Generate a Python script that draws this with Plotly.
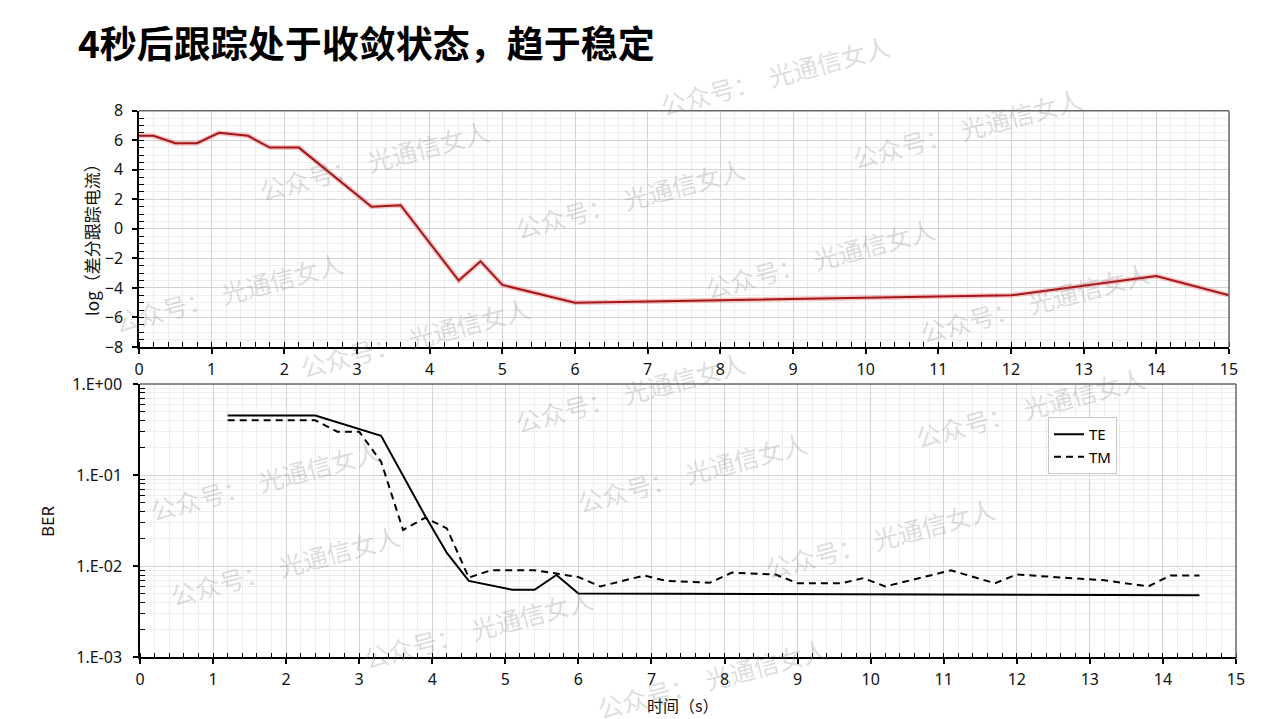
import plotly.graph_objects as go

# ---------------- data ----------------
title_text = "4秒后跟踪处于收敛状态，趋于稳定"

# top chart: log(differential tracking current) vs time
cur_t = [0, 0.2, 0.5, 0.8, 1.1, 1.5, 1.8, 2.2, 3.2, 3.6, 4.4, 4.7, 5.0, 6.0, 12.0, 14.0, 15.0]
cur_v = [6.3, 6.3, 5.8, 5.8, 6.5, 6.3, 5.5, 5.5, 1.5, 1.6, -3.5, -2.2, -3.8, -5.0, -4.5, -3.2, -4.5]

# bottom chart: BER vs time
te_t = [1.2, 2.4, 3.3, 3.9, 4.2, 4.5, 5.1, 5.4, 5.7, 6.0, 14.5]
te_v = [0.45, 0.45, 0.27, 0.036, 0.014, 0.0069, 0.0055, 0.0055, 0.008, 0.005, 0.0048]

tm_t = [1.2, 2.4, 2.7, 3.0, 3.3, 3.6, 3.9, 4.2, 4.5, 4.8, 5.1, 5.4, 5.7, 6.0, 6.3,
        6.9, 7.2, 7.8, 8.1, 8.7, 9.0, 9.6, 9.9, 10.2, 11.1, 11.7, 12.0, 12.6, 13.2,
        13.8, 14.1, 14.5]
tm_v = [0.40, 0.40, 0.30, 0.30, 0.14, 0.025, 0.034, 0.026, 0.0075, 0.009, 0.009, 0.009,
        0.0083, 0.0076, 0.006, 0.0079, 0.0069, 0.0066, 0.0085, 0.0081, 0.0065, 0.0065,
        0.0074, 0.006, 0.009, 0.0065, 0.0081, 0.0075, 0.007, 0.006, 0.0079, 0.0079]

ber_tickvals = [1, 0.1, 0.01, 0.001]
ber_ticktext = ["1.E+00", "1.E-01", "1.E-02", "1.E-03"]
ber_minor = [m * d for d in (0.001, 0.01, 0.1) for m in range(2, 10)]

top_ylabel = "log（差分跟踪电流）"
bot_ylabel = "BER"
bot_xlabel = "时间（s）"

watermark = "公众号：  光通信女人"
wm_pos = [(775, 75), (967, 128), (374, 160), (630, 198), (820, 258), (1035, 302),
          (228, 292), (415, 337), (630, 392), (1030, 407), (265, 480), (692, 472),
          (880, 538), (285, 565), (478, 628), (712, 678)]

# ---------------- figure ----------------
W, H = 1280, 719
FONT = "Noto Sans, Noto Sans CJK SC, sans-serif"
CJK = "Noto Sans CJK SC, sans-serif"

def px_x(p):
    return p / W

def px_y(p):
    return 1 - p / H

fig = go.Figure()

# top: glow + line
fig.add_trace(go.Scatter(x=cur_t, y=cur_v, mode="lines", xaxis="x", yaxis="y",
                         line=dict(color="rgba(230,90,90,0.35)", width=5),
                         showlegend=False, hoverinfo="skip"))
fig.add_trace(go.Scatter(x=cur_t, y=cur_v, mode="lines", xaxis="x", yaxis="y",
                         line=dict(color="#A3161A", width=2),
                         showlegend=False))

fig.add_trace(go.Scatter(x=te_t, y=te_v, mode="lines", xaxis="x2", yaxis="y2",
                         name="TE", line=dict(color="black", width=2)))
fig.add_trace(go.Scatter(x=tm_t, y=tm_v, mode="lines", xaxis="x2", yaxis="y2",
                         name="TM", line=dict(color="black", width=2, dash="7px,5px")))

grid_major = "#d4d4d4"
grid_minor = "#ededed"
tickfont = dict(family=FONT, size=16, color="#111")

common_x = dict(range=[0, 15], dtick=1, tick0=0, showgrid=True, gridcolor=grid_major,
                gridwidth=1, showline=True, linecolor="black", linewidth=1.5,
                ticks="outside", ticklen=5, tickwidth=1.5, tickcolor="black",
                tickfont=tickfont, zeroline=False, ticklabelstandoff=2, automargin=False,
                minor=dict(dtick=0.2, showgrid=True, gridcolor=grid_minor, gridwidth=1,
                           ticks="inside", ticklen=5, tickwidth=1, tickcolor="black"))

fig.update_layout(
    width=W, height=H, autosize=False,
    margin=dict(l=0, r=0, t=0, b=0, pad=0, autoexpand=False),
    paper_bgcolor="white", plot_bgcolor="white",
    xaxis=dict(domain=[px_x(139), px_x(1229)], anchor="y", **common_x),
    yaxis=dict(domain=[px_y(347), px_y(110.7)], anchor="x", range=[-8, 8], dtick=2,
               showgrid=True, gridcolor=grid_major, showline=True, linecolor="black",
               linewidth=1.5, ticks="outside", ticklen=5, tickwidth=1.5, tickcolor="black",
               tickfont=tickfont, zeroline=False, ticklabelstandoff=6, automargin=False,
               minor=dict(dtick=0.5, showgrid=True, gridcolor=grid_minor,
                          ticks="inside", ticklen=5, tickwidth=1, tickcolor="black")),
    xaxis2=dict(domain=[px_x(140), px_x(1236)], anchor="y2", **common_x),
    yaxis2=dict(domain=[px_y(657.3), px_y(384)], anchor="x2", type="log",
                range=[-3, 0], tickmode="array", tickvals=ber_tickvals, ticktext=ber_ticktext,
                showgrid=True, gridcolor=grid_major, showline=True, linecolor="black",
                linewidth=1.5, ticks="outside", ticklen=5, tickwidth=1.5, tickcolor="black",
                tickfont=tickfont, zeroline=False, ticklabelstandoff=8, automargin=False,
                minor=dict(tickmode="array", tickvals=ber_minor, showgrid=True,
                           gridcolor=grid_minor, ticks="inside",
                           ticklen=5, tickwidth=1, tickcolor="black")),
    legend=dict(x=px_x(1048), y=px_y(417), xanchor="left", yanchor="top",
                bgcolor="white", bordercolor="#c8c8c8", borderwidth=1,
                font=dict(family=FONT, size=15, color="black"),
                tracegroupgap=0, itemwidth=30),
    showlegend=True,
)

# frames (top/right edges in gray)
for xr, yr in (("x", "y"), ("x2", "y2")):
    fig.add_shape(type="line", xref=f"{xr} domain", yref=f"{yr} domain",
                  x0=0, x1=1, y0=1, y1=1, line=dict(color="#666666", width=1.5), layer="above")
    fig.add_shape(type="line", xref=f"{xr} domain", yref=f"{yr} domain",
                  x0=1, x1=1, y0=0, y1=1, line=dict(color="#666666", width=1.5), layer="above")

ann = []
ann.append(dict(text=f"<b>{title_text}</b>", x=px_x(76), y=px_y(42), xref="paper", yref="paper",
                xanchor="left", yanchor="middle", showarrow=False,
                font=dict(family=CJK, size=37, color="black")))
ann.append(dict(text=top_ylabel, x=px_x(91), y=px_y(236), xref="paper", yref="paper",
                textangle=-90, showarrow=False, xanchor="center", yanchor="middle",
                font=dict(family=CJK, size=17, color="#111")))
ann.append(dict(text=bot_ylabel, x=px_x(47), y=px_y(521), xref="paper", yref="paper",
                textangle=-90, showarrow=False, xanchor="center", yanchor="middle",
                font=dict(family=FONT, size=17, color="#111")))
ann.append(dict(text=bot_xlabel, x=px_x(683), y=px_y(705), xref="paper", yref="paper",
                showarrow=False, xanchor="center", yanchor="middle",
                font=dict(family=CJK, size=16, color="#111")))
for (wx, wy) in wm_pos:
    ann.append(dict(text=watermark, x=px_x(wx), y=px_y(wy), xref="paper", yref="paper",
                    textangle=-15, showarrow=False, xanchor="center", yanchor="middle",
                    font=dict(family=CJK, size=25, color="rgba(120,120,120,0.26)")))
fig.update_layout(annotations=ann)

fig.write_html(
    "out.html",
    config={"displayModeBar": False, "responsive": False},
    post_script=("document.documentElement.style.margin='0';"
                 "document.documentElement.style.overflow='hidden';"
                 "document.body.style.margin='0';"
                 "document.body.style.overflow='hidden';"),
)
